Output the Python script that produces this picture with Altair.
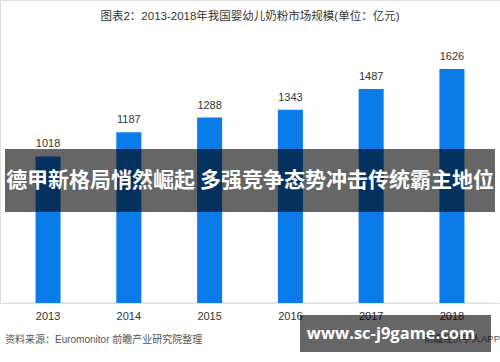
import altair as alt
import pandas as pd

years = ["2013", "2014", "2015", "2016", "2017", "2018"]
values = [1018, 1187, 1288, 1343, 1487, 1626]
title_text = "图表2：2013-2018年我国婴幼儿奶粉市场规模(单位：亿元)"
source_text = "资料来源：Euromonitor 前瞻产业研究院整理"
app_text = "前瞻经济学人APP"
banner_text = "德甲新格局悄然崛起 多强竞争态势冲击传统霸主地位"
site_text = "www.sc-j9game.com"

df = pd.DataFrame({"year": years, "value": values})
one = pd.DataFrame({"a": [0]})

CJK = "Liberation Sans, Noto Sans CJK SC"

x = alt.X("year:N", sort=years,
          scale=alt.Scale(paddingInner=0.69, paddingOuter=0.44),
          axis=alt.Axis(title=None, domain=False, ticks=False, labelAngle=0,
                        labelFontSize=11, labelColor="#333333", labelPadding=7,
                        labelFont="Liberation Sans", grid=False))
y = alt.Y("value:Q", scale=alt.Scale(domain=[0, 2105], nice=False), axis=None)

bars = alt.Chart(df).mark_bar(color="#0a7be8").encode(x=x, y=y)
labels = alt.Chart(df).mark_text(dy=-12, fontSize=11, color="#333333",
                                 font="Liberation Sans").encode(x=x, y=y, text="value:Q")

base_rule = alt.Chart(one).mark_rule(color="#e2e2e2", strokeWidth=1.5).encode(
    x=alt.value(8), x2=alt.value(492), y=alt.value(303))

title = alt.Chart(one).mark_text(fontSize=11.5, color="#333333", font=CJK,
                                 align="center", baseline="middle").encode(
    x=alt.value(250), y=alt.value(17), text=alt.value(title_text))

source = alt.Chart(one).mark_text(fontSize=10, color="#555555", font=CJK,
                                  align="left", baseline="middle").encode(
    x=alt.value(5), y=alt.value(340), text=alt.value(source_text))

app = alt.Chart(one).mark_text(fontSize=9.5, color="#555555", font=CJK,
                               align="right", baseline="middle").encode(
    x=alt.value(500), y=alt.value(339), text=alt.value(app_text))

banner = alt.Chart(one).mark_rect(color="black", opacity=0.6).encode(
    x=alt.value(5), x2=alt.value(495), y=alt.value(149), y2=alt.value(212))

banner_label = alt.Chart(one).mark_text(fontSize=21, fontWeight="bold", color="white",
                                        font="Noto Sans CJK SC", align="center",
                                        baseline="middle").encode(
    x=alt.value(250), y=alt.value(181), text=alt.value(banner_text))

box = alt.Chart(one).mark_rect(color="black", opacity=0.6).encode(
    x=alt.value(300), x2=alt.value(491), y=alt.value(315), y2=alt.value(352))

site = alt.Chart(one).mark_text(fontSize=16.5, fontWeight="bold", color="white",
                                font="Open Sans", align="center",
                                baseline="middle").encode(
    x=alt.value(391), y=alt.value(334), text=alt.value(site_text))

chart = alt.layer(base_rule, bars, labels, title, source, app, banner, banner_label, box, site).properties(
    width=500, height=303,
    autosize=alt.AutoSizeParams(type="none"),
    padding={"left": 0, "top": 0, "right": 0, "bottom": 59},
).configure_view(stroke=None).configure(background="white")

chart.save("out.html", embed_options={"renderer": "svg", "actions": False})
